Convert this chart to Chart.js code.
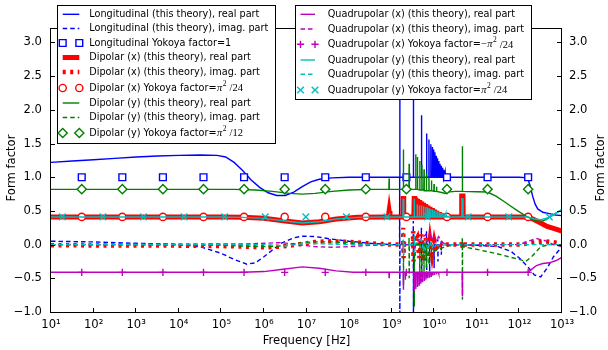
<!DOCTYPE html>
<html>
<head>
<meta charset="utf-8">
<script src="https://cdn.jsdelivr.net/npm/chart.js@4.4.0/dist/chart.umd.min.js"></script>
<style>
html, body { margin: 0; padding: 0; background: #fff; }
</style>
</head>
<body>
<canvas id="c" width="608" height="350"></canvas>
<script>
// points are [log10(frequency / Hz), form factor]
var lonRe = [[1,1.22],[1.5,1.24],[2,1.26],[2.5,1.28],[3,1.30],[3.5,1.315],[4,1.325],[4.5,1.33],[4.9,1.325],[5.1,1.30],[5.3,1.22],
  [5.5,1.10],[5.7,0.96],[5.9,0.85],[6.1,0.77],[6.3,0.73],[6.5,0.73],[6.7,0.78],[6.9,0.86],[7.1,0.93],[7.3,0.97],[7.6,0.99],[8,1.0],
  [9.185,1],[9.19,3.4],[9.195,1],[9.505,1],[9.51,3.4],[9.515,1],[9.695,1],[9.7,1.92],[9.705,1],[9.815,1],[9.82,1.65],[9.825,1],
  [9.87,1],[9.875,1.56],[9.88,1],[9.915,1],[9.92,1.49],[9.925,1],[9.95,1],[9.955,1.45],[9.96,1],[9.98,1],[9.985,1.41],[9.99,1],
  [10.01,1],[10.015,1.37],[10.02,1],[10.04,1],[10.045,1.32],[10.05,1],[10.07,1],[10.075,1.28],[10.08,1],[10.1,1],[10.105,1.24],[10.11,1],
  [10.13,1],[10.135,1.2],[10.14,1],[10.16,1],[10.165,1.17],[10.17,1],[10.19,1],[10.195,1.14],[10.2,1],[10.22,1],[10.225,1.11],[10.23,1],
  [10.25,1],[10.255,1.08],[10.26,1],[10.28,1],[10.285,1.05],[10.29,1],[10.31,1],[10.315,1.03],[10.32,1],
  [12.0,1.0],[12.19,0.99],[12.25,0.88],[12.31,0.72],[12.37,0.6],[12.43,0.53],[12.55,0.48],[12.7,0.46],[12.85,0.44],[13,0.43]];
var lonIm = [[1,0.05],[2,0.04],[3,0.02],[4,0.0],[4.5,-0.03],[5,-0.13],[5.3,-0.22],[5.6,-0.29],[5.8,-0.27],[6.0,-0.18],[6.2,-0.08],
  [6.4,0.02],[6.7,0.10],[6.9,0.125],[7.2,0.12],[7.5,0.09],[8,0.05],[8.5,0.02],[9.0,0.0],
  [9.185,0],[9.188,1.0],[9.192,-1.3],[9.195,0],[9.505,0],[9.508,0.35],[9.512,-1.3],[9.515,0],
  [9.695,0],[9.698,0.25],[9.702,-0.55],[9.705,0],[9.815,0],[9.818,0.2],[9.822,-0.5],[9.825,0],[9.885,0],[9.888,0.15],[9.892,-0.45],[9.895,0],
  [9.99,0],[9.993,0.1],[9.997,-0.35],[10.0,0],[10.08,0],[10.083,0.08],[10.087,-0.25],[10.09,0],[10.16,0],[10.163,0.05],[10.167,-0.15],[10.17,0],
  [10.5,0],[11,-0.01],[11.5,-0.03],[11.8,-0.1],[12.0,-0.2],[12.2,-0.33],[12.35,-0.45],[12.5,-0.48],[12.65,-0.35],[12.8,-0.18],[13,-0.03]];
var dipXRe = [[1,0.41],[5,0.41],[5.5,0.405],[6,0.39],[6.5,0.35],[6.9,0.32],[7.3,0.34],[7.7,0.38],[8.2,0.405],[8.8,0.41],
  [8.92,0.41],[8.94,0.5],[8.96,0.41],[9.265,0.41],[9.268,0.72],[9.282,0.72],[9.285,0.41],
  [9.52,0.41],[9.53,0.72],[9.54,0.41],[9.555,0.41],[9.565,0.7],[9.575,0.41],[9.595,0.41],[9.605,0.68],[9.615,0.41],
  [9.64,0.41],[9.65,0.66],[9.66,0.41],[9.69,0.41],[9.7,0.64],[9.71,0.41],[9.74,0.41],[9.75,0.62],[9.76,0.41],
  [9.79,0.41],[9.8,0.6],[9.81,0.41],[9.84,0.41],[9.85,0.58],[9.86,0.41],[9.89,0.41],[9.9,0.56],[9.91,0.41],
  [9.94,0.41],[9.95,0.54],[9.96,0.41],[9.99,0.41],[10.0,0.52],[10.01,0.41],[10.05,0.41],[10.06,0.5],[10.07,0.41],
  [10.11,0.41],[10.12,0.48],[10.13,0.41],[10.17,0.41],[10.18,0.46],[10.19,0.41],[10.23,0.41],[10.24,0.44],[10.25,0.41],
  [10.64,0.41],[10.645,0.72],[10.675,0.72],[10.68,0.41],[12.2,0.41],[12.35,0.37],[12.5,0.32],[12.65,0.27],[12.8,0.24],[13,0.2]];
var dipXIm = [[1,-0.01],[4,-0.015],[5,-0.02],[5.5,-0.03],[6,-0.04],[6.4,-0.03],[6.8,0.0],[7.2,0.04],[7.6,0.05],[8,0.04],[8.5,0.02],[9,0.0],
  [9.265,0],[9.27,0.25],[9.28,-0.2],[9.285,0],[9.5,0],[9.505,0.2],[9.515,-0.25],[9.52,0],[9.6,0.1],[9.65,-0.2],
  [9.7,0.15],[9.75,-0.25],[9.8,0.1],[9.85,-0.2],[9.9,0.08],[9.95,-0.15],[10.0,0.05],[10.05,-0.1],[10.1,0.03],[10.2,-0.03],[10.3,0.0],
  [10.64,0],[10.65,0.05],[10.67,-0.05],[10.68,0],[12,0.0],[12.3,0.03],[12.6,0.05],[13,0.02]];
var dipYRe = [[1,0.82],[5.3,0.82],[5.8,0.81],[6.2,0.79],[6.6,0.76],[6.9,0.75],[7.2,0.76],[7.6,0.79],[8,0.81],[8.5,0.82],
  [8.935,0.82],[8.94,0.98],[8.945,0.82],[9.27,0.82],[9.275,1.41],[9.28,0.82],[9.405,0.82],[9.41,1.2],[9.415,0.82],
  [9.56,0.82],[9.565,1.34],[9.57,0.82],[9.6,0.82],[9.605,1.3],[9.61,0.82],[9.655,0.81],[9.66,1.24],[9.665,0.81],
  [9.705,0.81],[9.71,1.19],[9.715,0.81],[9.755,0.81],[9.76,1.12],[9.765,0.8],[9.81,0.8],[9.815,1.06],[9.82,0.8],
  [9.87,0.8],[9.875,1.0],[9.88,0.8],[9.93,0.8],[9.935,0.95],[9.94,0.8],[9.99,0.79],[9.995,0.9],[10.0,0.79],
  [10.05,0.79],[10.055,0.86],[10.06,0.79],[10.2,0.77],[10.25,0.76],[10.3,0.78],[10.5,0.79],
  [10.655,0.79],[10.66,1.46],[10.665,0.79],[11,0.785],[11.25,0.78],[11.45,0.72],[11.64,0.64],[11.8,0.57],[11.96,0.5],
  [12.19,0.41],[12.35,0.36],[12.5,0.34],[12.62,0.37],[12.74,0.42],[12.87,0.47],[13,0.52]];
var dipYIm = [[1,0.0],[5,-0.01],[5.5,-0.02],[6,-0.03],[6.4,-0.02],[6.8,0.02],[7.2,0.04],[7.6,0.04],[8,0.03],[8.5,0.01],[9,0.0],
  [9.27,0],[9.272,0.2],[9.278,-0.6],[9.28,0],[9.405,0],[9.408,0.1],[9.412,-0.5],[9.415,0],[9.525,0],[9.528,0.1],[9.532,-0.92],[9.535,0],
  [9.655,0],[9.66,-0.5],[9.665,0],[9.705,0],[9.71,-0.45],[9.715,0],[9.755,0],[9.76,-0.4],[9.765,0],[9.81,0],[9.815,-0.35],[9.82,0],
  [9.87,0],[9.875,-0.3],[9.88,0],[9.93,0],[9.935,-0.25],[9.94,0],[10.0,-0.1],[10.3,-0.02],
  [10.655,0],[10.658,0.1],[10.662,-0.82],[10.665,-0.03],[11,-0.07],[11.5,-0.14],[12,-0.22],[12.15,-0.25],[12.3,-0.17],[12.5,-0.03],[12.7,0.0],[13,0.0]];
var quadXRe = [[1,-0.41],[5.5,-0.41],[6,-0.40],[6.4,-0.37],[6.9,-0.33],[7.3,-0.35],[7.7,-0.39],[8.1,-0.41],[8.9,-0.41],
  [8.935,-0.41],[8.94,-0.49],[8.945,-0.41],[9.27,-0.41],[9.275,-0.67],[9.28,-0.41],[9.315,-0.41],[9.32,-0.52],[9.325,-0.41],
  [9.525,-0.41],[9.53,-0.69],[9.535,-0.41],[9.56,-0.41],[9.565,-0.66],[9.57,-0.41],[9.6,-0.41],[9.605,-0.63],[9.61,-0.41],
  [9.64,-0.41],[9.645,-0.6],[9.65,-0.41],[9.68,-0.41],[9.685,-0.58],[9.69,-0.41],[9.72,-0.41],[9.725,-0.56],[9.73,-0.41],
  [9.76,-0.41],[9.765,-0.54],[9.77,-0.41],[9.8,-0.41],[9.805,-0.52],[9.81,-0.41],[9.84,-0.41],[9.845,-0.5],[9.85,-0.41],
  [9.88,-0.41],[9.885,-0.49],[9.89,-0.41],[9.92,-0.41],[9.925,-0.47],[9.93,-0.41],[9.96,-0.41],[9.965,-0.46],[9.97,-0.41],
  [10.0,-0.41],[10.005,-0.45],[10.01,-0.41],[10.05,-0.41],[10.055,-0.44],[10.06,-0.41],[10.1,-0.41],[10.105,-0.43],[10.11,-0.41],
  [10.655,-0.41],[10.66,-0.77],[10.665,-0.41],[12.2,-0.41],[12.3,-0.36],[12.4,-0.31],[12.55,-0.28],[12.7,-0.27],[12.85,-0.24],[13,-0.19]];
var quadXIm = [[1,0.0],[5.5,0.01],[6,0.02],[6.4,0.03],[6.8,0.0],[7.2,-0.03],[7.6,-0.04],[8,-0.03],[8.5,-0.01],[9,0],
  [9.27,0],[9.275,-0.12],[9.28,0.05],[9.285,0],[9.53,0],[9.533,0.12],[9.537,-0.1],[9.54,0],[9.8,0.15],[9.85,0.05],[9.9,0.18],
  [9.95,0.05],[10.0,0.15],[10.05,0.05],[10.1,0.12],[10.2,0.03],[10.3,0],[12,0.0],[12.2,0.05],[12.4,0.09],[12.6,0.06],[12.8,0.0],[13,-0.03]];
var quadYRe = [[1,0.41],[5,0.41],[5.5,0.405],[6,0.39],[6.5,0.35],[6.9,0.32],[7.3,0.34],[7.7,0.38],[8.2,0.405],[8.8,0.41],
  [9.265,0.41],[9.268,0.68],[9.282,0.68],[9.285,0.41],[9.525,0.41],[9.53,0.68],[9.535,0.41],
  [9.595,0.41],[9.6,0.6],[9.605,0.41],[9.645,0.41],[9.65,0.58],[9.655,0.41],[9.695,0.41],[9.7,0.58],[9.705,0.41],
  [9.745,0.41],[9.75,0.57],[9.755,0.41],[9.795,0.41],[9.8,0.56],[9.805,0.41],[9.835,0.41],[9.84,0.55],[9.845,0.41],
  [9.875,0.41],[9.88,0.54],[9.885,0.41],[9.915,0.41],[9.92,0.53],[9.925,0.41],[9.955,0.41],[9.96,0.52],[9.965,0.41],
  [9.995,0.41],[10.0,0.51],[10.005,0.41],[10.035,0.41],[10.04,0.5],[10.045,0.41],[10.075,0.41],[10.08,0.49],[10.085,0.41],
  [10.115,0.41],[10.12,0.48],[10.125,0.41],[10.155,0.41],[10.16,0.47],[10.165,0.41],[10.195,0.41],[10.2,0.46],[10.205,0.41],
  [10.235,0.41],[10.24,0.45],[10.245,0.41],[10.275,0.41],[10.28,0.44],[10.285,0.41],[10.315,0.41],[10.32,0.43],[10.325,0.41],
  [10.645,0.41],[10.65,0.68],[10.67,0.68],[10.675,0.41],[12.2,0.41],[12.35,0.38],[12.5,0.37],[12.62,0.39],[12.74,0.42],[12.87,0.47],[13,0.52]];
var quadYIm = [[1,0.0],[6,0.0],[6.5,-0.02],[7,0.02],[8,0.0],
  [9.27,0],[9.275,0.15],[9.28,-0.15],[9.285,0],[9.53,0],[9.533,0.15],[9.537,-0.15],[9.54,0],[9.7,0.08],[9.75,-0.1],[9.8,0.06],
  [9.85,-0.08],[9.9,0.05],[9.95,-0.06],[10.0,0.03],[10.1,-0.02],[10.3,0],[13,0.0]];

// Yokoya factors (constant) and the frequencies where their markers sit
var yokoyaExpA = [1.722, 2.675, 3.628, 4.581, 5.534, 6.487, 7.44, 8.393, 9.346, 10.299, 11.252, 12.205];
var yokoyaExpB = [1.266, 2.219, 3.172, 4.125, 5.078, 6.031, 6.984, 7.937, 8.89, 9.843, 10.796, 11.749, 12.702];
var yokoyaLon = 1.0;
var yokoyaDipX = 0.4112;
var yokoyaDipY = 0.8225;
var yokoyaQuadX = -0.4112;
var yokoyaQuadY = 0.4112;

var xTickExps = [1, 2, 3, 4, 5, 6, 7, 8, 9, 10, 11, 12, 13];
var yTickVals = [-1, -0.5, 0, 0.5, 1, 1.5, 2, 2.5, 3];

var SUP = {'0':'⁰','1':'¹','2':'²','3':'³','4':'⁴','5':'⁵','6':'⁶','7':'⁷','8':'⁸','9':'⁹'};
function toPts(arr) {
  return arr.map(function (p) { return {x: Math.pow(10, p[0]), y: p[1]}; });
}
function constPts(exps, v) {
  return exps.map(function (e) { return {x: Math.pow(10, e), y: v}; });
}

var BLUE = '#0000ff', RED = '#ff0000', GREEN = '#008000', MAG = '#bf00bf', CYAN = '#00bfbf';
var DASH = [4.5, 3];

function lineDs(label, pts, color, width, dash) {
  return {label: label, data: toPts(pts), borderColor: color, borderWidth: width, borderDash: dash || [],
    pointRadius: 0, showLine: true, fill: false, tension: 0, clip: 0};
}
function markDs(label, pts, color, style, r) {
  return {label: label, data: pts, borderColor: color, showLine: false, pointStyle: style, pointRadius: r,
    pointBorderColor: color, pointBackgroundColor: '#ffffff', pointBorderWidth: 1.4, clip: 0};
}

var datasets = [
  lineDs('Longitudinal (this theory), real part', lonRe, BLUE, 1.4),
  lineDs('Longitudinal (this theory), imag. part', lonIm, BLUE, 1.4, DASH),
  markDs('Longitudinal Yokoya factor=1', constPts(yokoyaExpA, yokoyaLon), BLUE, 'rect', 4.8),
  lineDs('Dipolar (x) (this theory), real part', dipXRe, RED, 5),
  lineDs('Dipolar (x) (this theory), imag. part', dipXIm, RED, 4.5, [3, 4.5]),
  markDs('Dipolar (x) Yokoya factor=π²/24', constPts(yokoyaExpA, yokoyaDipX), RED, 'circle', 3.6),
  lineDs('Dipolar (y) (this theory), real part', dipYRe, GREEN, 1.4),
  lineDs('Dipolar (y) (this theory), imag. part', dipYIm, GREEN, 1.4, DASH),
  markDs('Dipolar (y) Yokoya factor=π²/12', constPts(yokoyaExpA, yokoyaDipY), GREEN, 'rectRot', 4.6),
  lineDs('Quadrupolar (x) (this theory), real part', quadXRe, MAG, 1.4),
  lineDs('Quadrupolar (x) (this theory), imag. part', quadXIm, MAG, 1.4, DASH),
  markDs('Quadrupolar (x) Yokoya factor=−π²/24', constPts(yokoyaExpA, yokoyaQuadX), MAG, 'cross', 3.6),
  lineDs('Quadrupolar (y) (this theory), real part', quadYRe, CYAN, 1.4),
  lineDs('Quadrupolar (y) (this theory), imag. part', quadYIm, CYAN, 1.4, DASH),
  markDs('Quadrupolar (y) Yokoya factor=π²/24', constPts(yokoyaExpB, yokoyaQuadY), CYAN, 'crossRot', 4.7)
];
// first plotted is drawn first (at the bottom)
datasets.forEach(function (d, i) { d.order = datasets.length - i; });

// legend entries: dataset index, text, optional math part
var legendLeft = {box: [57.5, 5.5, 218, 138], hx: [62.7, 79.3], tx: 89.3,
  rows: [14.3, 28.5, 43, 57.5, 72, 88, 103, 117.5, 133],
  items: [
    {ds: 0, text: 'Longitudinal (this theory), real part'},
    {ds: 1, text: 'Longitudinal (this theory), imag. part'},
    {ds: 2, text: 'Longitudinal Yokoya factor=1'},
    {ds: 3, text: 'Dipolar (x) (this theory), real part'},
    {ds: 4, text: 'Dipolar (x) (this theory), imag. part'},
    {ds: 5, text: 'Dipolar (x) Yokoya factor=', math: {neg: false, den: '24'}},
    {ds: 6, text: 'Dipolar (y) (this theory), real part'},
    {ds: 7, text: 'Dipolar (y) (this theory), imag. part'},
    {ds: 8, text: 'Dipolar (y) Yokoya factor=', math: {neg: false, den: '12'}}
  ]};
var legendRight = {box: [295.5, 5.5, 236, 94], hx: [300.5, 315], tx: 327.7,
  rows: [14.3, 29, 44.3, 60, 74.3, 90],
  items: [
    {ds: 9, text: 'Quadrupolar (x) (this theory), real part'},
    {ds: 10, text: 'Quadrupolar (x) (this theory), imag. part'},
    {ds: 11, text: 'Quadrupolar (x) Yokoya factor=', math: {neg: true, den: '24'}},
    {ds: 12, text: 'Quadrupolar (y) (this theory), real part'},
    {ds: 13, text: 'Quadrupolar (y) (this theory), imag. part'},
    {ds: 14, text: 'Quadrupolar (y) Yokoya factor=', math: {neg: false, den: '24'}}
  ]};

function drawMarker(ctx, d, x, y) {
  ctx.save();
  ctx.strokeStyle = d.pointBorderColor;
  ctx.fillStyle = d.pointBackgroundColor;
  ctx.lineWidth = d.pointBorderWidth;
  ctx.setLineDash([]);
  Chart.helpers.drawPoint(ctx, {pointStyle: d.pointStyle, radius: d.pointRadius, borderWidth: d.pointBorderWidth, rotation: 0}, x, y);
  ctx.restore();
}

function drawLegend(ctx, chart, L) {
  var b = L.box;
  ctx.save();
  ctx.fillStyle = '#fff';
  ctx.fillRect(b[0], b[1], b[2], b[3]);
  ctx.strokeStyle = '#000';
  ctx.lineWidth = 1;
  ctx.setLineDash([]);
  ctx.strokeRect(b[0], b[1], b[2], b[3]);
  L.items.forEach(function (it, i) {
    var d = chart.data.datasets[it.ds];
    var y = L.rows[i];
    if (d.showLine) {
      ctx.save();
      ctx.strokeStyle = d.borderColor;
      ctx.lineWidth = d.borderWidth;
      ctx.setLineDash(d.borderDash);
      ctx.beginPath();
      ctx.moveTo(L.hx[0], y);
      ctx.lineTo(L.hx[1], y);
      ctx.stroke();
      ctx.restore();
    } else {
      drawMarker(ctx, d, L.hx[0], y);
      drawMarker(ctx, d, L.hx[1], y);
    }
    ctx.fillStyle = '#000';
    ctx.textBaseline = 'middle';
    ctx.textAlign = 'left';
    ctx.font = '9.7px "DejaVu Sans"';
    ctx.fillText(it.text, L.tx, y);
    if (it.math) {
      var x = L.tx + ctx.measureText(it.text).width + 0.5;
      if (it.math.neg) {
        ctx.font = '10.5px "Liberation Serif"';
        ctx.fillText('−', x, y);
        x += ctx.measureText('−').width;
      }
      ctx.font = 'italic 10.5px "Liberation Serif"';
      ctx.fillText('π', x, y);
      x += ctx.measureText('π').width + 0.5;
      ctx.font = '7.5px "Liberation Serif"';
      ctx.fillText('2', x, y - 4);
      x += ctx.measureText('2').width + 3;
      ctx.font = '10.5px "Liberation Serif"';
      ctx.fillText('/' + it.math.den, x, y + 0.5);
    }
  });
  ctx.restore();
}

var framePlugin = {
  id: 'frameLegend',
  afterDraw: function (chart) {
    var ctx = chart.ctx, a = chart.chartArea;
    var sx = chart.scales.x, sy = chart.scales.y;
    ctx.save();
    ctx.strokeStyle = '#000';
    ctx.lineWidth = 1;
    ctx.setLineDash([]);
    ctx.strokeRect(a.left - 0.5, a.top - 0.5, a.right - a.left, a.bottom - a.top + 1);
    ctx.beginPath();
    yTickVals.forEach(function (v) {
      var py = Math.round(sy.getPixelForValue(v)) + 0.5;
      ctx.moveTo(a.left, py); ctx.lineTo(a.left + 4, py);
      ctx.moveTo(a.right - 1, py); ctx.lineTo(a.right - 5, py);
    });
    xTickExps.forEach(function (e) {
      var px = Math.round(sx.getPixelForValue(Math.pow(10, e))) - 0.5;
      ctx.moveTo(px, a.bottom); ctx.lineTo(px, a.bottom - 4);
    });
    ctx.stroke();

    ctx.fillStyle = '#000';
    ctx.font = '11.6px "DejaVu Sans"';
    ctx.textAlign = 'center';
    ctx.textBaseline = 'middle';
    ctx.fillText('Frequency [Hz]', (a.left + a.right) / 2, 341);
    ctx.save();
    ctx.translate(12, 168);
    ctx.rotate(-Math.PI / 2);
    ctx.fillText('Form factor', 0, 0);
    ctx.restore();
    ctx.save();
    ctx.translate(601, 168);
    ctx.rotate(-Math.PI / 2);
    ctx.fillText('Form factor', 0, 0);
    ctx.restore();
    ctx.restore();

    drawLegend(ctx, chart, legendLeft);
    drawLegend(ctx, chart, legendRight);
  }
};

function yLabel(v) {
  return v.toFixed(1).replace('-', '−');
}
var tickFont = {family: 'DejaVu Sans', size: 11.6};

new Chart(document.getElementById('c'), {
  type: 'line',
  data: {datasets: datasets},
  options: {
    responsive: false,
    animation: false,
    devicePixelRatio: 1,
    layout: {padding: {top: 29, left: 0, right: 0, bottom: 0}},
    plugins: {legend: {display: false}, tooltip: {enabled: false}},
    scales: {
      x: {
        type: 'logarithmic', min: 10, max: 1e13,
        grid: {display: false, drawTicks: false},
        border: {display: false},
        afterBuildTicks: function (s) { s.ticks = xTickExps.map(function (e) { return {value: Math.pow(10, e)}; }); },
        afterFit: function (s) { s.height = 38; },
        ticks: {
          autoSkip: false, maxRotation: 0, padding: 6, color: '#000', font: tickFont,
          callback: function (v) {
            var e = String(Math.round(Math.log10(v)));
            return '10' + e.split('').map(function (c) { return SUP[c]; }).join('');
          }
        }
      },
      y: {
        position: 'left', min: -1, max: 3.2,
        grid: {display: false, drawTicks: false},
        border: {display: false},
        afterBuildTicks: function (s) { s.ticks = yTickVals.map(function (v) { return {value: v}; }); },
        afterFit: function (s) { s.width = 51; },
        ticks: {padding: 9, color: '#000', font: tickFont, callback: yLabel}
      },
      y2: {
        position: 'right', min: -1, max: 3.2,
        grid: {display: false, drawTicks: false},
        border: {display: false},
        afterBuildTicks: function (s) { s.ticks = yTickVals.map(function (v) { return {value: v}; }); },
        afterFit: function (s) { s.width = 46; },
        ticks: {padding: 7, color: '#000', font: tickFont, callback: yLabel}
      }
    }
  },
  plugins: [framePlugin]
});
</script>
</body>
</html>
